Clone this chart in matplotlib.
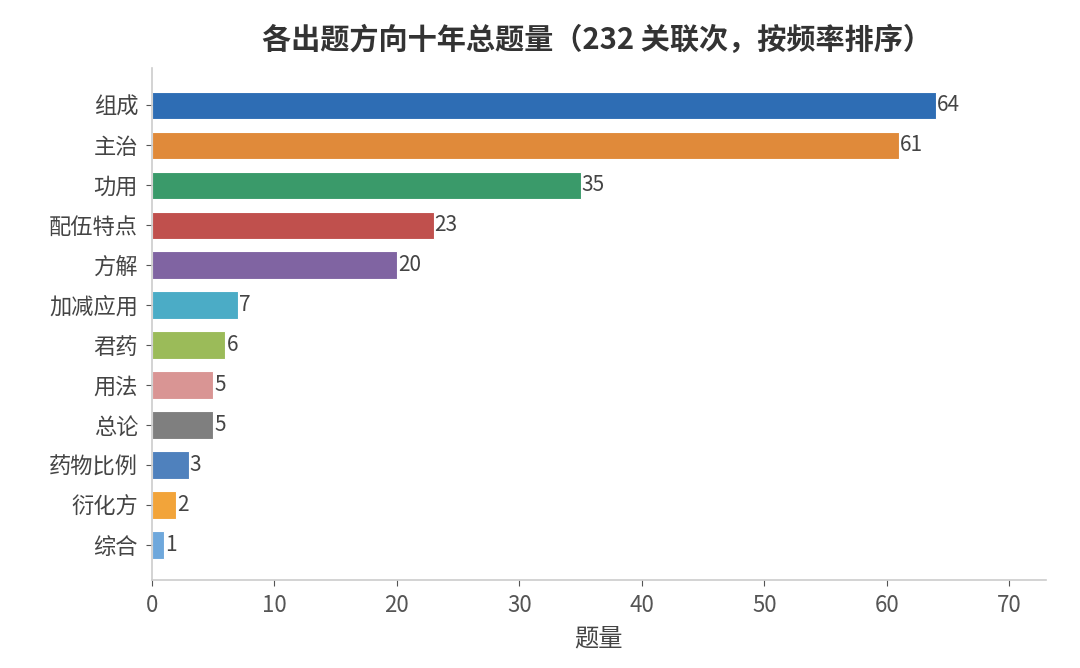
import matplotlib
matplotlib.use("Agg")
import matplotlib.pyplot as plt

plt.rcParams['font.family'] = ['Noto Sans CJK SC', 'DejaVu Sans']

categories = ["组成", "主治", "功用", "配伍特点", "方解", "加减应用", "君药", "用法", "总论", "药物比例", "衍化方", "综合"]
values = [64, 61, 35, 23, 20, 7, 6, 5, 5, 3, 2, 1]
colors = ["#2E6DB4", "#E08A3A", "#3A9A6A", "#C0504D", "#8064A2", "#4BACC6",
          "#9BBB59", "#D99594", "#7F7F7F", "#4F81BD", "#F2A43A", "#6FA8DC"]
title = "各出题方向十年总题量（232 关联次，按频率排序）"
xlabel = "题量"

fig = plt.figure(figsize=(10.8, 6.68), dpi=100)
ax = fig.add_axes([0.1407, 0.1317, 0.8278, 0.7663])

y = list(range(len(categories)))
ax.barh(y, values, height=0.68, color=colors, edgecolor="white", linewidth=0.8)
for yi, v in zip(y, values):
    ax.text(v + 0.08, yi, str(v), va="center", ha="left", fontsize=15, color="#444444")

ax.set_yticks(y)
ax.set_yticklabels(categories, fontsize=16, color="#444444")
ax.set_ylim(11.875, -0.925)
ax.set_xlim(0, 73)
ax.set_xticks(range(0, 71, 10))
ax.tick_params(axis="x", labelsize=16, color="#555555", length=4, labelcolor="#555555", pad=6)
ax.tick_params(axis="y", length=4, color="#555555", pad=6)
ax.set_xlabel(xlabel, fontsize=17.5, color="#444444", labelpad=6)
ax.spines["top"].set_visible(False)
ax.spines["right"].set_visible(False)
for s in ("left", "bottom"):
    ax.spines[s].set_color("#cccccc")
    ax.spines[s].set_linewidth(1.2)

fig.text(0.553, 0.94, title, ha="center", va="center", fontsize=21, fontweight="bold", color="#333333")

fig.savefig("out.png", dpi=100, facecolor="white")
